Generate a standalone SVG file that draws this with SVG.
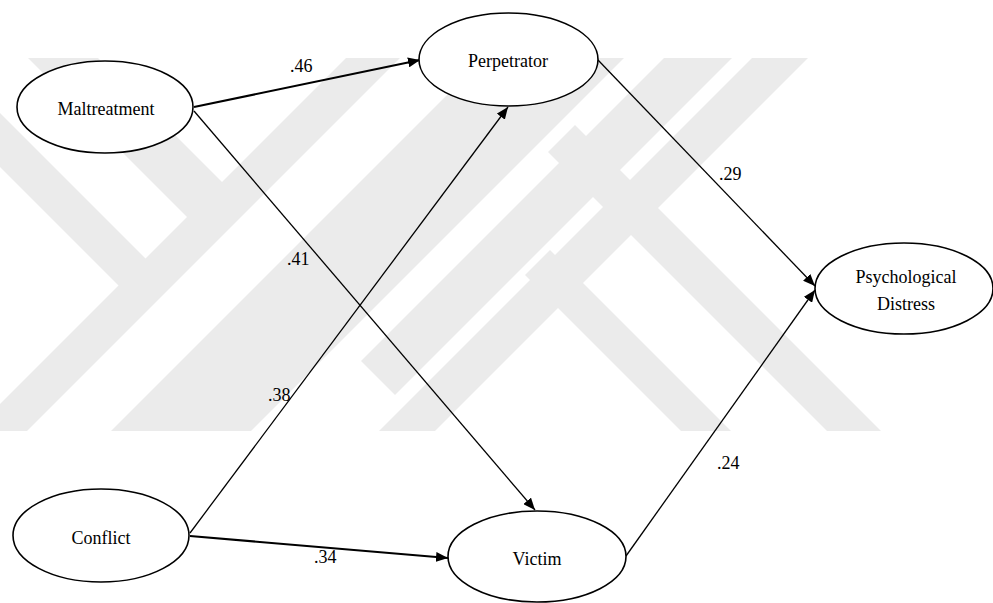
<svg xmlns="http://www.w3.org/2000/svg" width="993" height="603" viewBox="0 0 993 603">
  <defs>
    <style>
      .node ellipse { fill: #ffffff; stroke: #000000; stroke-width: 1.6; }
      .node text { text-anchor: middle; }
      .edge { stroke: #000000; fill: none; marker-end: url(#arrow); }
      .wm { fill: #ebebeb; }
    </style>
    <marker id="arrow" viewBox="0 0 12 10" refX="12" refY="5" markerWidth="12" markerHeight="10" markerUnits="userSpaceOnUse" orient="auto">
      <path d="M0,0 L12,5 L0,10 z" fill="#000000"/>
    </marker>
    <clipPath id="wmclip">
      <rect x="0" y="58" width="993" height="373"/>
    </clipPath>
  </defs>
  <rect width="993" height="603" fill="#ffffff"/>
  <g id="watermark" clip-path="url(#wmclip)">
    <polygon class="wm" points="364,40 418,40 8,450 -46,450"/>
    <polygon class="wm" points="502,40 642,40 232,450 92,450"/>
    <polygon class="wm" points="770,40 826,40 416,450 360,450"/>
    <polygon class="wm" points="682,40 750,40 395,395 361,361"/>
    <polygon class="wm" points="-50,63 153.5,266.5 126.5,293.5 -50,117"/>
    <polygon class="wm" points="10,40 80,40 230,190 195,225"/>
    <polygon class="wm" points="525,275 550,250 750,450 700,450"/>
    <polygon class="wm" points="548,152 575,125 900,450 846,450"/>
  </g>
  <g id="connectors">
    <line class="edge" x1="194" y1="107" x2="420" y2="60" stroke-width="2"/>
    <line class="edge" x1="194" y1="111" x2="535" y2="510" stroke-width="1.3"/>
    <line class="edge" x1="190" y1="533" x2="508" y2="107" stroke-width="1.3"/>
    <line class="edge" x1="190" y1="536" x2="448" y2="558" stroke-width="2"/>
    <line class="edge" x1="598" y1="60" x2="815" y2="286" stroke-width="1.3"/>
    <line class="edge" x1="626" y1="556" x2="815" y2="290" stroke-width="1.3"/>
  </g>
  <g id="labels" font-family="'Liberation Serif', 'Times New Roman', 'DejaVu Serif', serif" font-size="18" fill="#000000">
    <text x="290" y="72">.46</text>
    <text x="287" y="265">.41</text>
    <text x="268" y="401">.38</text>
    <text x="314" y="563">.34</text>
    <text x="719" y="180">.29</text>
    <text x="717" y="469">.24</text>
  </g>
  <g font-family="'Liberation Serif', 'Times New Roman', 'DejaVu Serif', serif" font-size="18" fill="#000000">
    <g id="node-maltreatment" class="node">
      <ellipse cx="105" cy="107" rx="88" ry="46"/>
      <text x="106" y="115">Maltreatment</text>
    </g>
    <g id="node-perpetrator" class="node">
      <ellipse cx="508.5" cy="59.5" rx="89.5" ry="46.5"/>
      <text x="508" y="67">Perpetrator</text>
    </g>
    <g id="node-conflict" class="node">
      <ellipse cx="101" cy="535.5" rx="88" ry="46.5"/>
      <text x="101" y="544">Conflict</text>
    </g>
    <g id="node-victim" class="node">
      <ellipse cx="537" cy="556.5" rx="89" ry="45.5"/>
      <text x="537" y="565">Victim</text>
    </g>
    <g id="node-distress" class="node">
      <ellipse cx="904" cy="288.5" rx="89" ry="45.5"/>
      <text x="906" y="283">Psychological</text>
      <text x="906" y="310">Distress</text>
    </g>
  </g>
</svg>
